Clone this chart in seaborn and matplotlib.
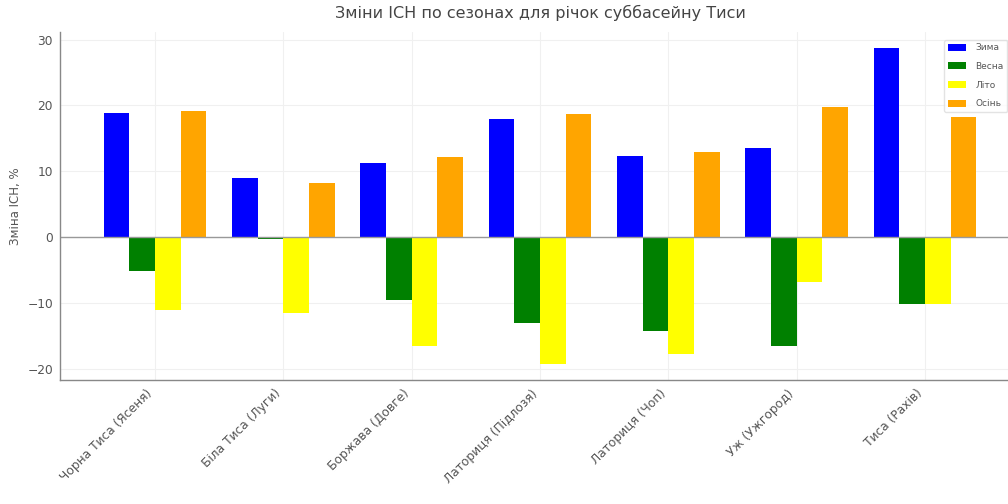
import numpy as np
import pandas as pd
import matplotlib
matplotlib.use("Agg")
import matplotlib.pyplot as plt
import seaborn as sns

rivers = ["Чорна Тиса (Ясеня)", "Біла Тиса (Луги)", "Боржава (Довге)",
          "Латориця (Підлозя)", "Латориця (Чоп)", "Уж (Ужгород)", "Тиса (Рахів)"]
seasons = ["Зима", "Весна", "Літо", "Осінь"]
winter = [18.8, 9.0, 11.2, 18.0, 12.4, 13.6, 28.8]
spring = [-5.1, -0.3, -9.5, -13.0, -14.2, -16.6, -10.1]
summer = [-11.1, -11.5, -16.6, -19.3, -17.8, -6.8, -10.1]
autumn = [19.2, 8.2, 12.2, 18.7, 13.0, 19.7, 18.2]
colors = ["#0000ff", "#008000", "#ffff00", "#ffa500"]

df = pd.DataFrame({
    "river": rivers * 4,
    "season": np.repeat(seasons, len(rivers)),
    "value": winter + spring + summer + autumn,
})

sns.set_theme(style="whitegrid")
plt.rcParams['font.family'] = ['DejaVu Sans']

fig = plt.figure(figsize=(10.08, 5.04), dpi=100)
ax = fig.add_axes([0.0595, 0.246, 0.9525, 0.691])

sns.barplot(data=df, x="river", y="value", hue="season", hue_order=seasons,
            palette=colors, saturation=1, width=0.8, linewidth=0, ax=ax,
            errorbar=None)

ax.axhline(0, color="#999999", linewidth=1, zorder=1)
ax.set_xlim(-0.74, 6.74)
ax.set_ylim(-21.7, 31.2)
ax.set_yticks([-20, -10, 0, 10, 20, 30])
ax.grid(True, color="#f0f0f0", linewidth=0.8)
ax.set_axisbelow(True)

for s in ["top", "right"]:
    ax.spines[s].set_visible(False)
for s in ["left", "bottom"]:
    ax.spines[s].set_color("#888888")
    ax.spines[s].set_linewidth(1)

ax.tick_params(axis="both", labelsize=8.8, colors="#555555", length=3,
               direction="inout", width=0.8)
plt.setp(ax.get_xticklabels(), rotation=45, ha="right")

ax.set_xlabel("")
ax.set_ylabel("Зміна ІСН, %", fontsize=8.5, color="#555555")
ax.set_title("Зміни ІСН по сезонах для річок суббасейну Тиси", fontsize=11.5,
             color="#444444", pad=10)

leg = ax.legend(loc="upper left", bbox_to_anchor=(0.916, 0.99), fontsize=6.5,
                frameon=True, handlelength=2.0, handleheight=0.8, labelspacing=1.07,
                handletextpad=1.1, borderpad=0.4, title=None)
leg.get_frame().set_edgecolor("#dddddd")
for t in leg.get_texts():
    t.set_color("#555555")

fig.savefig("out.png", dpi=100)
